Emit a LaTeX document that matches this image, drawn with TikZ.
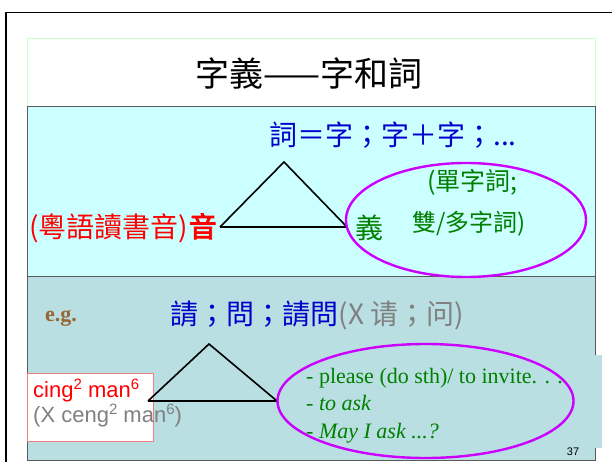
\documentclass[tikz,border=0pt]{standalone}
\usepackage{fontspec}
\setmainfont{Liberation Serif}
\newfontfamily\cjk[BoldFont={Noto Sans CJK TC},BoldFeatures={FakeBold=3}]{Noto Sans CJK TC}
\newfontfamily\arial{Liberation Sans}
\definecolor{upcyan}{RGB}{204,255,255}
\definecolor{lowteal}{RGB}{185,223,226}
\definecolor{titlegreen}{RGB}{204,255,204}
\definecolor{boxgray}{RGB}{90,90,90}
\definecolor{wordblue}{RGB}{0,0,204}
\definecolor{meangreen}{RGB}{0,128,0}
\definecolor{senseviolet}{RGB}{204,0,255}
\definecolor{egbrown}{RGB}{153,102,51}
\definecolor{oldgray}{RGB}{128,128,128}
\definecolor{boxred}{RGB}{240,128,128}
\newcommand\sz[1]{\fontsize{#1}{#1}\selectfont}
\newcommand\tone[1]{\raisebox{7.5pt}{\sz{15}#1}}

\begin{document}
\begin{tikzpicture}[x=1pt,y=-1pt,
    tri/.style={line width=1.6pt, line join=miter},
    sense/.style={draw=senseviolet, line width=2.4pt},
    txt/.style={inner sep=0pt}]
      \useasboundingbox (0,0) rectangle (612,462);
      \draw[line width=1.5pt] (6,462) -- (6,12.5) -- (612,12.5);
      \draw[titlegreen, fill=white, line width=0.8pt] (27,38) rectangle (595,106);
      \draw[boxgray, fill=upcyan, line width=0.8pt] (27,106) rectangle (595,276);
      \draw[boxgray, fill=lowteal, line width=0.8pt] (27,276) rectangle (595,460.5);
      \node [txt] (title) at (309,73) {\cjk\sz{34}字義——字和詞};
      \node [txt, wordblue] (word) at (393,135) {\cjk\sz{28}詞＝字；字＋字；...};
      \coordinate (t1) at (284,162);
      \coordinate (l1) at (220,227);
      \coordinate (r1) at (347,227);
      \draw[tri] (l1) -- (t1) -- (r1);
      \draw[line width=2.6pt] (l1) -- (r1);
      \node [txt, red, anchor=base east] (yin) at (217,237) {\cjk\bfseries\sz{28}音};
      \node [txt, red, anchor=base east] (yue) at (yin.base west) {\cjk\sz{28}(粵語讀書音)};
      \draw[sense] (466,220) ellipse [x radius=120, y radius=57];
      \node [txt, meangreen, anchor=west] (dan) at (427,182) {\cjk\sz{25}(單字詞;};
      \node [txt, meangreen, anchor=west] (yi) at (355,228) {\cjk\sz{28}義};
      \node [txt, meangreen, anchor=west] (shuang) at (412,224) {\cjk\sz{24}雙/多字詞)};
      \node [txt, egbrown, anchor=west] (eg) at (45,318) {\bfseries\sz{22}e.g.};
      \node [txt, wordblue, anchor=base west] (qing) at (170,324) {\cjk\sz{28}請；問；請問};
      \node [txt, oldgray, anchor=base west] (simp) at (qing.base east) {\cjk\sz{28}(X 请；问)};
      \coordinate (t2) at (209,344);
      \coordinate (l2) at (148,401);
      \coordinate (r2) at (277,401);
      \draw[boxred, fill=white, line width=0.8pt] (27,373) rectangle (153,441);
      \node [txt, red, anchor=base west] (cing) at (33,397) {\arial\sz{22}cing\tone{2} man\tone{6}};
      \node [txt, oldgray, anchor=base west] (ceng) at (33,422) {\arial\sz{22}(X ceng\tone{2} man\tone{6})};
      \draw[tri] (l2) -- (t2) -- (r2);
      \draw[line width=2.6pt] (l2) -- (r2);
      \fill[lowteal] (300,355) rectangle (602,448);
      \draw[sense] (425.5,401) ellipse [x radius=148, y radius=57];
      \node [txt, meangreen, anchor=base west] (please) at (306,383) {\sz{22}- please (do sth)/ to invite. . .};
      \node [txt, meangreen, anchor=base west] (ask) at (306,410.5) {\sz{22}- \textit{to ask}};
      \node [txt, meangreen, anchor=base west] (may) at (306,438) {\sz{22}- \textit{May I ask ...?}};
      \node [txt, anchor=center] (page) at (573,452) {\arial\sz{11}37};
\end{tikzpicture}
\end{document}
